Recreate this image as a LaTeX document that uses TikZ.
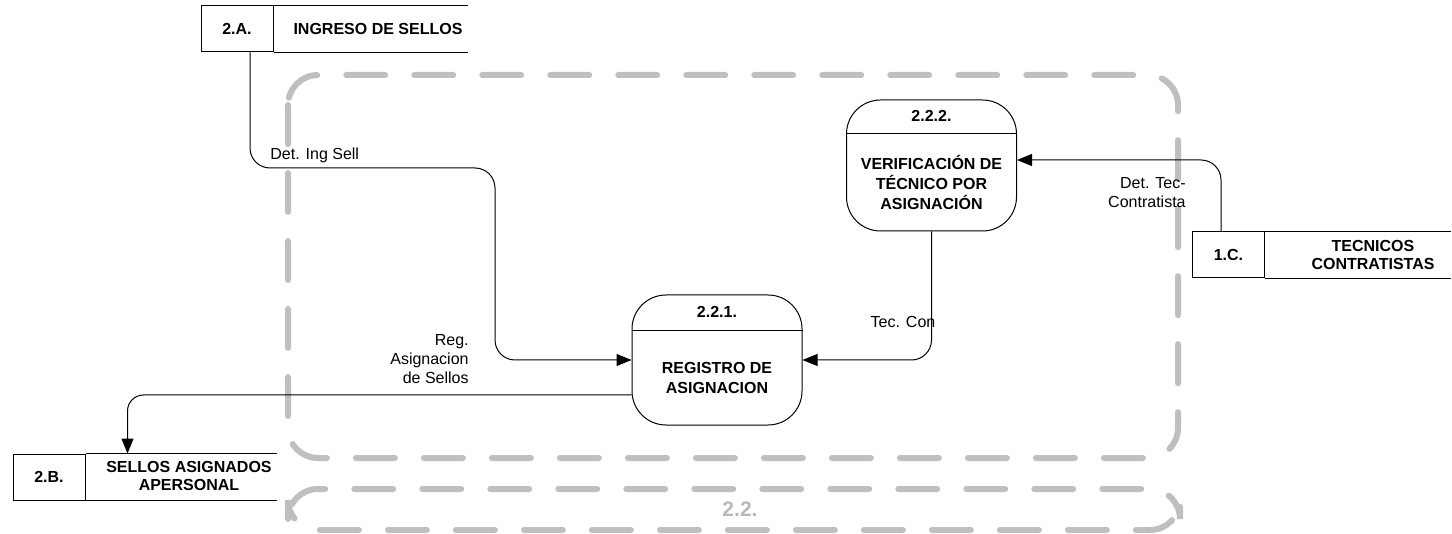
\documentclass[tikz,border=0pt]{standalone}
\usepackage{fontspec}
\setmainfont{Liberation Sans}
\usetikzlibrary{arrows.meta, positioning}

\begin{document}
\begin{tikzpicture}[
        x=0.5pt, y=-0.5pt,
        font=\fontsize{8}{9.5}\selectfont,
        >={Triangle[length=7.5pt, width=6pt]},
        % Styles
        process/.style={rectangle, draw, line width=0.5pt, rounded corners=17pt, minimum width=85pt, inner sep=0pt},
        phead/.style={inner sep=0pt, font=\fontsize{8}{10}\bfseries\selectfont},
        pbody/.style={align=center, inner sep=0pt, font=\fontsize{8}{10}\bfseries\selectfont},
        storeid/.style={rectangle, draw, line width=0.5pt, minimum width=36pt, minimum height=23pt, inner sep=0pt, font=\fontsize{8}{10}\bfseries\selectfont},
        storetxt/.style={align=center, inner sep=0pt, font=\fontsize{8}{9.2}\bfseries\selectfont},
        flow/.style={->, line width=0.5pt, rounded corners=10pt},
        lbl/.style={align=right, inner sep=0pt},
        frame/.style={draw=black!25, line width=3pt, line cap=round, dash pattern=on 19.5pt off 14.5pt, rounded corners=15pt}
    ]
    \useasboundingbox (0,0) rectangle (1452,534);

    % --- SUBPROCESS FRAME 2.2. ---
    \draw[frame] (288,75) rectangle (1178,458);
    \draw[frame] (288,489) rectangle (1180,530);
    \node[text=black!28, font=\fontsize{10.5}{12}\bfseries\selectfont] (subproc) at (740,509) {2.2.};

    % --- DATA STORES ---
    \node[storeid] (ingreso) at (237,29) {2.A.};
    \node[storetxt] (ingresot) at (378,29) {INGRESO DE SELLOS};
    \draw[line width=0.5pt] (ingreso.north east) -- ++(97pt,0) (ingreso.south east) -- ++(97pt,0);

    \node[storeid] (sellos) at (49,477) {2.B.};
    \node[storetxt] (sellost) at (189,476) {SELLOS ASIGNADOS\\APERSONAL};
    \draw[line width=0.5pt] (sellos.north east) -- ++(95.5pt,0) (sellos.south east) -- ++(95.5pt,0);

    \node[storeid] (tecnicos) at (1228.5,255) {1.C.};
    \node[storetxt] (tecnicost) at (1373,255) {TECNICOS\\CONTRATISTAS};
    \draw[line width=0.5pt] (tecnicos.north east) -- ++(93pt,0) (tecnicos.south east) -- ++(93pt,0);

    % --- PROCESSES ---
    \node[process, minimum height=65.5pt] (verif) at (931.5,165.5) {};
    \node[phead, minimum height=16.5pt, below=0pt of verif.north] (verifh) {2.2.2.};
    \draw[line width=0.5pt] (verif.west |- verifh.south) -- (verif.east |- verifh.south);
    \node[pbody, minimum height=49pt, below=0pt of verifh] (verift) {VERIFICACIÓN DE\\TÉCNICO POR\\ASIGNACIÓN};

    \node[process, minimum height=65pt] (registro) at (717,360) {};
    \node[phead, minimum height=17.5pt, below=0pt of registro.north] (registroh) {2.2.1.};
    \draw[line width=0.5pt] (registro.west |- registroh.south) -- (registro.east |- registroh.south);
    \node[pbody, minimum height=47.5pt, below=0pt of registroh] (registrot) {REGISTRO DE\\ASIGNACION};

    % --- FLOWS ---
    \coordinate (ingbend) at (495,168);
    \draw[flow] ([xshift=6.5pt]ingreso.south) |- (ingbend) |- (registro.west);
    \node[lbl, anchor=south west] (lbling) at (270,163) {Det. Ing Sell};

    \draw[flow] ([xshift=-3.75pt]tecnicos.north) |- ([yshift=2.75pt]verif.east);
    \node[lbl, anchor=east] (lbltec) at (1186,193) {Det. Tec-\\Contratista};

    \draw[flow] (verif.south) |- (registro.east);
    \node[lbl] (lbltcon) at (903,322) {Tec. Con};

    \draw[flow, rounded corners=8pt] ([yshift=-17.5pt]registro.west) -| ([xshift=21pt]sellos.north east); % down to 2.B.
    \node[lbl, anchor=east] (lblreg) at (469,359) {Reg.\\Asignacion\\de Sellos};

\end{tikzpicture}
\end{document}
